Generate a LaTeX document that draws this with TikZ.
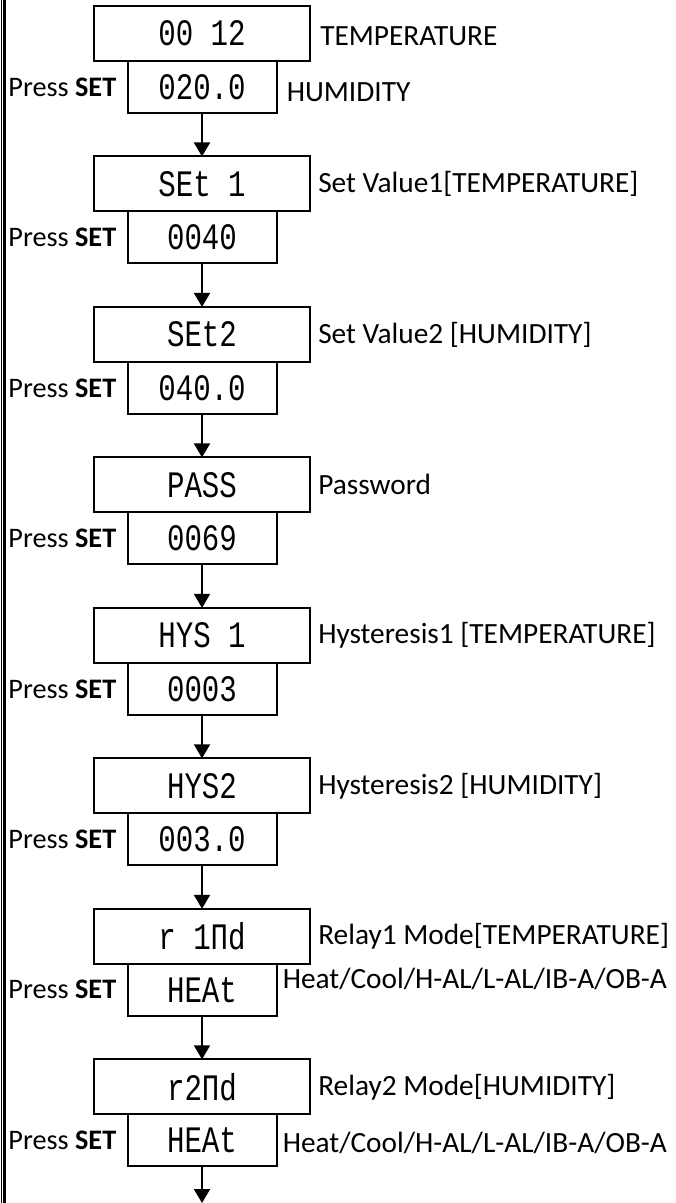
\documentclass[tikz,border=0pt]{standalone}
\usepackage{fontspec}
\setmainfont{Carlito}
\newfontfamily\segfont{Liberation Mono}[FakeStretch=0.78]
\usetikzlibrary{arrows.meta,positioning}

\begin{document}
\begin{tikzpicture}[
  x=0.75pt,y=-0.75pt,
  font=\fontsize{22}{26}\selectfont,
  disp/.style={draw,line width=1.5pt,outer sep=0pt,inner sep=0pt,font=\fontsize{28}{30}\segfont},
  namebox/.style={disp,minimum width=162pt,minimum height=41.25pt},
  valbox/.style={disp,minimum width=111.75pt,minimum height=39pt},
  lbl/.style={inner sep=0pt},
  presslbl/.style={lbl,font=\fontsize{21.2}{25}\selectfont},
  flow/.style={->,line width=1.5pt},
  >={Triangle[width=12pt,length=10.5pt]}
]
\useasboundingbox (0,0) rectangle (675,1203);
% page border on the left
\draw[line width=0.75pt] (1.5,0) -- (1.5,1203);
\draw[line width=2pt] (4.7,0) -- (4.7,1203);

% display / set values
\node[namebox] (disp) at (202,33.5) {00 12};
\node[valbox,below=0pt of disp] (dispv) {020.0};
\node[namebox,below=32.6pt of dispv] (set1) {SEt 1};
\node[valbox,below=0pt of set1] (set1v) {0040};
\node[namebox,below=32.6pt of set1v] (set2) {SEt2};
\node[valbox,below=0pt of set2] (set2v) {040.0};
\node[namebox,below=32.6pt of set2v] (pass) {PASS};
\node[valbox,below=0pt of pass] (passv) {0069};
\node[namebox,below=32.6pt of passv] (hys1) {HYS 1};
\node[valbox,below=0pt of hys1] (hys1v) {0003};
\node[namebox,below=32.6pt of hys1v] (hys2) {HYS2};
\node[valbox,below=0pt of hys2] (hys2v) {003.0};
\node[namebox,below=32.6pt of hys2v] (r1md) {r 1Πd};
\node[valbox,below=0pt of r1md] (r1mdv) {HEAt};
\node[namebox,below=32.6pt of r1mdv] (r2md) {r2Πd};
\node[valbox,below=0pt of r2md] (r2mdv) {HEAt};
\coordinate (out) at (202,1203);

% labels
\node[lbl,right=7.5pt of disp,yshift=-2pt] (displ) {TEMPERATURE};
\node[lbl,right=7.5pt of dispv,yshift=-4pt] (dispvl) {HUMIDITY};
\node[lbl,right=6pt of set1] (set1l) {Set Value1[TEMPERATURE]};
\node[lbl,right=6pt of set2] (set2l) {Set Value2 [HUMIDITY]};
\node[lbl,right=6pt of pass] (passl) {Password};
\node[lbl,right=6pt of hys1] (hys1l) {Hysteresis1 [TEMPERATURE]};
\node[lbl,right=6pt of hys2] (hys2l) {Hysteresis2 [HUMIDITY]};
\node[lbl,right=6pt of r1md] (r1mdl) {Relay1 Mode[TEMPERATURE]};
\node[lbl,right=4.5pt of r1mdv,yshift=8pt] (r1mdvl) {Heat/Cool/H-AL/L-AL/IB-A/OB-A};
\node[lbl,right=4.5pt of r2mdv,yshift=-2pt] (r2mdvl) {Heat/Cool/H-AL/L-AL/IB-A/OB-A};
\node[lbl,right=6pt of r2md] (r2mdl) {Relay2 Mode[HUMIDITY]};

\node[presslbl,left=8.25pt of dispv] (p1) {Press \textbf{SET}};
\node[presslbl,left=8.25pt of set1v] (p2) {Press \textbf{SET}};
\node[presslbl,left=8.25pt of set2v] (p3) {Press \textbf{SET}};
\node[presslbl,left=8.25pt of passv] (p4) {Press \textbf{SET}};
\node[presslbl,left=8.25pt of hys1v] (p5) {Press \textbf{SET}};
\node[presslbl,left=8.25pt of hys2v] (p6) {Press \textbf{SET}};
\node[presslbl,left=8.25pt of r1mdv] (p7) {Press \textbf{SET}};
\node[presslbl,left=8.25pt of r2mdv] (p8) {Press \textbf{SET}};

% flow
\draw[flow] (dispv) -- (set1);
\draw[flow] (set1v) -- (set2);
\draw[flow] (set2v) -- (pass);
\draw[flow] (passv) -- (hys1);
\draw[flow] (hys1v) -- (hys2);
\draw[flow] (hys2v) -- (r1md);
\draw[flow] (r1mdv) -- (r2md);
\draw[flow] (r2mdv) -- (out);
\end{tikzpicture}
\end{document}
